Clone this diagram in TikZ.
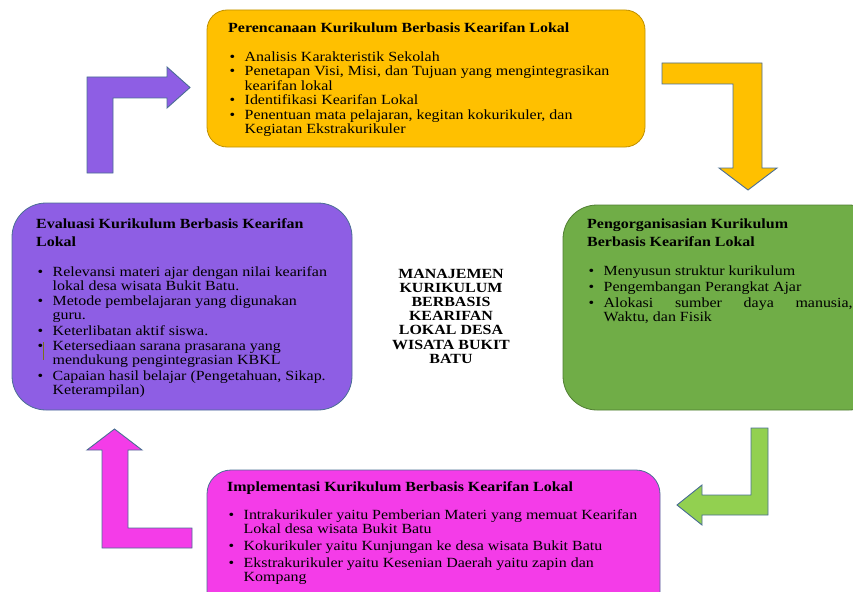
\documentclass[tikz,border=0pt]{standalone}
\usepackage{fontspec}
\setmainfont{Liberation Serif}[FakeStretch=1.14]
\usetikzlibrary{calc}
\definecolor{plancol}{HTML}{FFC000}
\definecolor{planline}{HTML}{BF9000}
\definecolor{evalcol}{HTML}{8E5EE4}
\definecolor{orgcol}{HTML}{70AD47}
\definecolor{orgline}{HTML}{507E32}
\definecolor{implcol}{HTML}{F43CE8}
\definecolor{greenarrow}{HTML}{92D050}
\definecolor{arrowline}{HTML}{4A6E94}
\tikzstyle{phasebox}=[draw=arrowline,line width=0.8pt,inner sep=0pt]
\tikzstyle{boxtext}=[anchor=north west,align=left,inner sep=0pt,font={\fontsize{14}{14}\selectfont}]
\tikzstyle{bentarrow}=[draw=arrowline,line width=0.9pt,line join=miter]
\newcommand{\itembul}{\hspace*{1.5pt}\makebox[15pt][l]{\textbullet}}
\newcommand{\itemcont}{\hspace*{16.5pt}}

\begin{document}
\begin{tikzpicture}[x=1pt,y=-1pt]
    \useasboundingbox (0,0) rectangle (853,591);
    \clip (0,0) rectangle (853,591);

    % First we draw the four boxes of the cycle
    \node[phasebox, fill=plancol, draw=planline, rounded corners=20pt, minimum width=438pt, minimum height=137pt] (plan) at (426,78.5) {};
    \node[phasebox, fill=evalcol, rounded corners=34pt, minimum width=340pt, minimum height=207pt] (eval) at (182,306.5) {};
    \node[phasebox, fill=orgcol, draw=orgline, rounded corners=34pt, minimum width=320pt, minimum height=205pt] (org) at (723,307.5) {};
    \node[phasebox, fill=implcol, rounded corners=24pt, minimum width=453pt, minimum height=150pt] (impl) at (433.5,545) {};

    % Texts in the boxes (top of the first line)
    \node[boxtext, font={\fontsize{14}{14.5}\selectfont}] (plantext) at (228,22.4) {\textbf{Perencanaan Kurikulum Berbasis Kearifan Lokal}\\[14.5pt]
        \itembul Analisis Karakteristik Sekolah\\
        \itembul Penetapan Visi, Misi, dan Tujuan yang mengintegrasikan\\
        \itemcont kearifan lokal\\
        \itembul Identifikasi Kearifan Lokal\\
        \itembul Penentuan mata pelajaran, kegitan kokurikuler, dan\\
        \itemcont Kegiatan Ekstrakurikuler};

    \node[boxtext] (evaltext) at (36,218.4) {\textbf{Evaluasi Kurikulum Berbasis Kearifan}\\[4pt]
        \textbf{Lokal}\\[16pt]
        \itembul Relevansi materi ajar dengan nilai kearifan\\
        \itemcont lokal desa wisata Bukit Batu.\\[1.5pt]
        \itembul Metode pembelajaran yang digunakan\\
        \itemcont guru.\\[1.5pt]
        \itembul Keterlibatan aktif siswa.\\[1.5pt]
        \itembul Ketersediaan sarana prasarana yang\\
        \itemcont mendukung pengintegrasian KBKL\\[1.5pt]
        \itembul Capaian hasil belajar (Pengetahuan, Sikap.\\
        \itemcont Keterampilan)};
    \draw[olive!80!black, line width=0.6pt] (43,342) -- (43,360);

    \node[boxtext] (orgtext) at (587,218.4) {\textbf{Pengorganisasian Kurikulum}\\[4pt]
        \textbf{Berbasis Kearifan Lokal}\\[15pt]
        \itembul Menyusun struktur kurikulum\\[2pt]
        \itembul Pengembangan Perangkat Ajar\\[2pt]
        \itembul \makebox[249pt][s]{Alokasi sumber daya manusia,}\\
        \itemcont Waktu, dan Fisik};

    \node[boxtext] (impltext) at (227,481.4) {\textbf{Implementasi Kurikulum Berbasis Kearifan Lokal}\\[14pt]
        \itembul Intrakurikuler yaitu Pemberian Materi yang memuat Kearifan\\
        \itemcont Lokal desa wisata Bukit Batu\\[3pt]
        \itembul Kokurikuler yaitu Kunjungan ke desa wisata Bukit Batu\\[3pt]
        \itembul Ekstrakurikuler yaitu Kesenian Daerah yaitu zapin dan\\
        \itemcont Kompang};

    % Title in the middle
    \node[anchor=north, align=center, inner sep=0pt, font={\fontsize{14}{14.2}\selectfont\bfseries}] (title) at (451,268.6)
        {MANAJEMEN\\KURIKULUM\\BERBASIS\\KEARIFAN\\LOKAL DESA\\WISATA BUKIT\\BATU};

    % Bent arrows between the boxes
    \draw[bentarrow, fill=evalcol] (87,173) -- (87,77) -- (167,77) -- (167,67) -- (190,87.5) -- (167,108) -- (167,98) -- (113,98) -- (113,173) -- cycle;
    \draw[bentarrow, fill=plancol] (662,63) -- (762,63) -- (762,168) -- (777,168) -- (748,190) -- (719,168) -- (733,168) -- (733,84) -- (662,84) -- cycle;
    \draw[bentarrow, fill=greenarrow] (751,428) -- (768,428) -- (768,515) -- (702,515) -- (702,525) -- (677,505) -- (702,485) -- (702,495) -- (751,495) -- cycle;
    \draw[bentarrow, fill=implcol] (192,528) -- (192,548) -- (102,548) -- (102,450) -- (87,450) -- (114.5,429) -- (142,450) -- (128,450) -- (128,528) -- cycle;
\end{tikzpicture}
\end{document}
